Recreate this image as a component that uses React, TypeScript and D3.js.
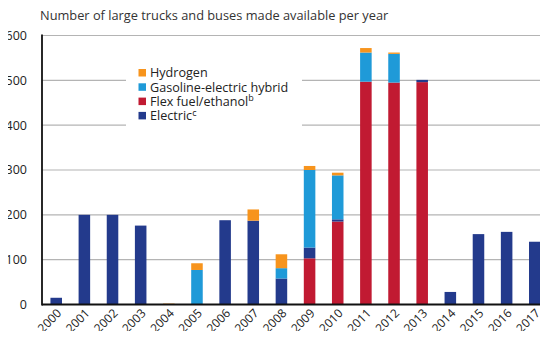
import React from "react";
import * as d3 from "d3";

const years = ["2000","2001","2002","2003","2004","2005","2006","2007","2008","2009","2010","2011","2012","2013","2014","2015","2016","2017"];
const flex =     [0,0,0,0,0,0,0,0,0,103,185,497,495,496,0,0,0,0];
const electric = [15,200,200,176,0,0,188,187,58,24,5,0,0,5,28,157,162,140];
const hybrid =   [0,0,0,0,0,77,0,0,23,173,98,65,64,0,0,0,0,0];
const hydrogen = [0,0,0,0,2,15,0,25,31,9,6,10,3,0,0,0,0,0];
const yTicks = [0,100,200,300,400,500,600];

const seriesKeys = ["flex","electric","hybrid","hydrogen"];
const colors: Record<string,string> = { flex: "#c11a32", electric: "#233a8c", hybrid: "#1f9ad8", hydrogen: "#f7941d" };
const legendItems = [
  { key: "hydrogen", label: "Hydrogen", sup: "" },
  { key: "hybrid", label: "Gasoline-electric hybrid", sup: "" },
  { key: "flex", label: "Flex fuel/ethanol", sup: "b" },
  { key: "electric", label: "Electric", sup: "c" },
];

export default function App() {
  const W = 548, H = 339;
  const left = 42, right = 549, top = 35.5, bottom = 304.5;
  const font = "'Open Sans', sans-serif";
  const x = d3.scaleBand<string>().domain(years).range([left, right]).paddingInner(0.59).paddingOuter(0.3);
  const y = d3.scaleLinear().domain([0, 600]).range([bottom, top]);
  const table = years.map((yr, i) => ({ year: yr, flex: flex[i], electric: electric[i], hybrid: hybrid[i], hydrogen: hydrogen[i] }));
  const stacked = d3.stack<any>().keys(seriesKeys)(table);

  return (
    <div style={{ margin: -8 }}>
      <svg width={W} height={H} style={{ display: "block", fontFamily: font }}>
        <rect width={W} height={H} fill="#fff" />
        <text x={40} y={20} fontSize={12.8} fill="#333">Number of large trucks and buses made available per year</text>
        {yTicks.map(t => (
          <g key={t}>
            {t > 0 && <line x1={left} x2={W} y1={y(t)} y2={y(t)} stroke="#b4b4b4" strokeWidth={1.2} />}
            <text x={27} y={y(t)} dy="0.35em" textAnchor="end" fontSize={12.5} fill="#222">{t}</text>
          </g>
        ))}
        <rect x={126} y={60} width={176} height={66} fill="#fff" />
        {stacked.map(s => (
          <g key={s.key} fill={colors[s.key]}>
            {s.map((d, i) => (d[1] - d[0] > 0 ? (
              <rect key={i} x={x(years[i])} width={x.bandwidth()} y={y(d[1])} height={y(d[0]) - y(d[1])} />
            ) : null))}
          </g>
        ))}
        <line x1={left} x2={left} y1={top - 1} y2={bottom + 1} stroke="#111" strokeWidth={1.8} />
        <line x1={left} x2={W} y1={bottom} y2={bottom} stroke="#111" strokeWidth={1.8} />
        {years.map(yr => {
          const cx = (x(yr) as number) + x.bandwidth() / 2 + 6;
          return (
            <text key={yr} transform={`translate(${cx},${314}) rotate(-45)`} textAnchor="end" fontSize={12} fill="#222">{yr}</text>
          );
        })}
        {legendItems.map((it, i) => (
          <g key={it.key} transform={`translate(138.5,${72.8 + i * 14.3})`}>
            <rect x={0} y={-3.8} width={7.5} height={7.5} fill={colors[it.key]} />
            <text x={11.5} y={0} dy="0.35em" fontSize={12.6} fill="#222">
              {it.label}
              {it.sup && <tspan dy="-0.5em" fontSize={9}>{it.sup}</tspan>}
            </text>
          </g>
        ))}
      </svg>
    </div>
  );
}
